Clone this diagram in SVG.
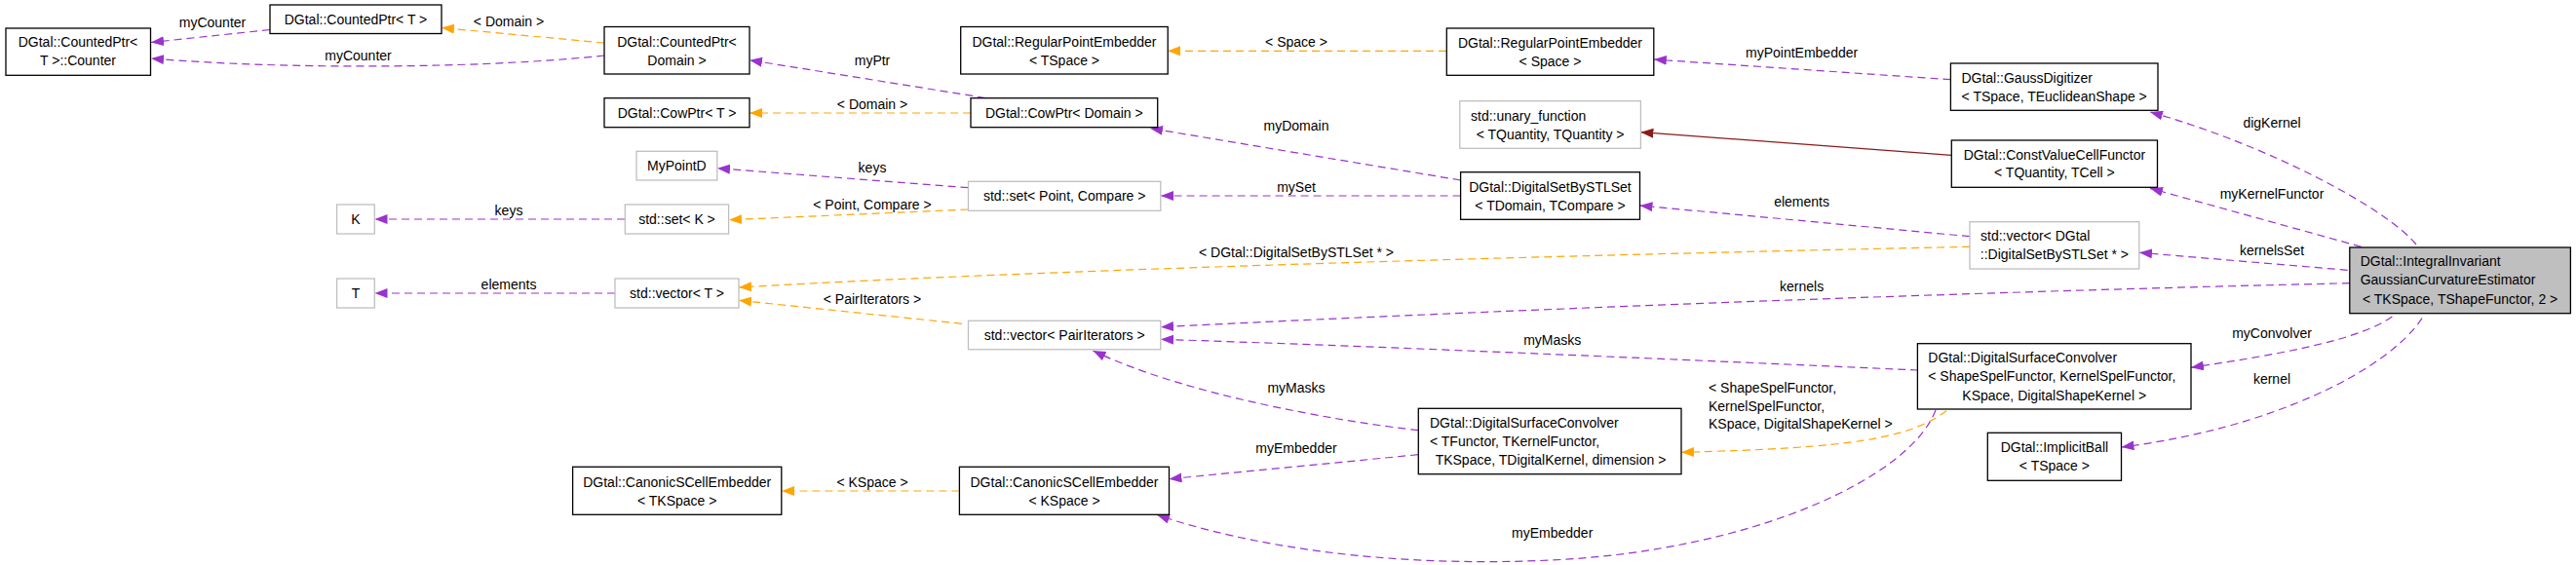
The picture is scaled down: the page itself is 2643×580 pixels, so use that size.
<svg xmlns="http://www.w3.org/2000/svg" width="2643" height="580" viewBox="0 0 2643 580">
<style>
text{font-family:"Liberation Sans",Arial,sans-serif;font-size:14px;fill:#000}
.c{text-anchor:middle}
.s{text-anchor:start}
.n rect{fill:#fff;stroke:#000;stroke-width:1.3}
.g rect{fill:#fff;stroke:#bfbfbf;stroke-width:1.3}
.h rect{fill:#bfbfbf;stroke:#000;stroke-width:1.3}
.p{fill:none;stroke:#9a32cd;stroke-width:1.2;stroke-dasharray:8,5}
.o{fill:none;stroke:#ffa500;stroke-width:1.2;stroke-dasharray:8,5}
.r{fill:none;stroke:#8b1a1a;stroke-width:1.2}
.p{marker-end:url(#ap)}
.o{marker-end:url(#ao)}
.r{marker-end:url(#ar)}
</style>
<defs>
<marker id="ap" markerUnits="userSpaceOnUse" markerWidth="14" markerHeight="10" refX="13" refY="5" orient="auto"><path d="M0,0 L13,5 L0,10 z" fill="#9a32cd"/></marker>
<marker id="ao" markerUnits="userSpaceOnUse" markerWidth="14" markerHeight="10" refX="13" refY="5" orient="auto"><path d="M0,0 L13,5 L0,10 z" fill="#ffa500"/></marker>
<marker id="ar" markerUnits="userSpaceOnUse" markerWidth="14" markerHeight="10" refX="13" refY="5" orient="auto"><path d="M0,0 L13,5 L0,10 z" fill="#8b1a1a"/></marker>
</defs>
<rect width="2643" height="580" fill="#fff"/>
<g id="connectors">
<path class="p" d="M277,30.5 L155,43.5"/>
<path class="p" d="M620,57 C500,70 300,72 155,60"/>
<path class="o" d="M620,44 L453,28.5"/>
<path class="p" d="M1011,100.5 L769,61.7"/>
<path class="o" d="M996,116 L769,116"/>
<path class="o" d="M1484,52.3 L1198,52.3"/>
<path class="p" d="M1498.6,185 L1180,131.7"/>
<path class="p" d="M993.5,192.7 L736,172.7"/>
<path class="o" d="M993.5,215 L748,225.7"/>
<path class="p" d="M641,225 L384.5,225"/>
<path class="p" d="M1498.6,201 L1191,201"/>
<path class="p" d="M631,301 L384.5,301"/>
<path class="o" d="M2021,253.3 C1700,260 1100,275 758,295"/>
<path class="o" d="M987,332.3 L758,308.3"/>
<path class="p" d="M2410.8,290.7 C2000,300 1500,320 1191,335.7"/>
<path class="p" d="M1968,380 C1700,368 1400,355 1191,348.3"/>
<path class="p" d="M1455,441.7 C1370,432 1215,405 1121.4,360"/>
<path class="p" d="M1455,466.7 L1199.5,491.7"/>
<path class="o" d="M984.4,504 L802,504"/>
<path class="p" d="M1986,421 C1960,490 1800,565 1592,575 C1420,583 1280,560 1187,528.5"/>
<path class="p" d="M2021,242.7 L1682.5,211"/>
<path class="r" d="M2002.3,159.3 L1683.4,135.7"/>
<path class="p" d="M2001.4,81.7 L1696.8,61"/>
<path class="p" d="M2479,251 C2450,215 2330,150 2206,115"/>
<path class="p" d="M2422.6,253.3 L2206,193.3"/>
<path class="p" d="M2408.7,277.3 L2195,259.3"/>
<path class="p" d="M2454.4,325 C2420,350 2330,365 2248,377.3"/>
<path class="p" d="M2485,326.7 C2450,380 2330,440 2176.5,459"/>
<path class="o" d="M1997,421.7 C1960,450 1900,460 1725,464.3"/>
<text class="c" x="218" y="28.3">myCounter</text>
<text class="c" x="367.5" y="62.3">myCounter</text>
<text class="c" x="522" y="26.7">&lt; Domain &gt;</text>
<text class="c" x="522" y="220.7">keys</text>
<text class="c" x="522" y="296.7">elements</text>
<text class="c" x="895" y="66.7">myPtr</text>
<text class="c" x="895" y="111.7">&lt; Domain &gt;</text>
<text class="c" x="895" y="176.7">keys</text>
<text class="c" x="895" y="215">&lt; Point, Compare &gt;</text>
<text class="c" x="1330" y="263.7">&lt; DGtal::DigitalSetBySTLSet * &gt;</text>
<text class="c" x="895" y="311.7">&lt; PairIterators &gt;</text>
<text class="c" x="895" y="500">&lt; KSpace &gt;</text>
<text class="c" x="1330" y="134.3">myDomain</text>
<text class="c" x="1330" y="196.7">mySet</text>
<text class="c" x="1330" y="47.7">&lt; Space &gt;</text>
<text class="c" x="1330" y="403.3">myMasks</text>
<text class="c" x="1330" y="465">myEmbedder</text>
<text class="c" x="1848.6" y="59.3">myPointEmbedder</text>
<text class="c" x="1848.6" y="212.3">elements</text>
<text class="c" x="1848.6" y="299">kernels</text>
<text class="c" x="1592.7" y="354.3">myMasks</text>
<text class="c" x="1592.7" y="552.3">myEmbedder</text>
<text class="s" x="1753" y="403.3">&lt; ShapeSpelFunctor,</text>
<text class="s" x="1753" y="421.7">KernelSpelFunctor,</text>
<text class="s" x="1753" y="440.3">KSpace, DigitalShapeKernel &gt;</text>
<text class="c" x="2331" y="131">digKernel</text>
<text class="c" x="2331" y="204.3">myKernelFunctor</text>
<text class="c" x="2331" y="262.3">kernelsSet</text>
<text class="c" x="2331" y="347.3">myConvolver</text>
<text class="c" x="2331" y="394.3">kernel</text>
</g>
<g id="counter" class="n"><rect x="6" y="29" width="148.5" height="48.3"/><text class="c" x="80" y="48">DGtal::CountedPtr&lt;</text><text class="c" x="80" y="67">T &gt;::Counter</text></g>
<g id="countedptrT" class="n"><rect x="277" y="5" width="176" height="29.5"/><text class="c" x="365" y="24.5">DGtal::CountedPtr&lt; T &gt;</text></g>
<g id="countedptrDomain" class="n"><rect x="620" y="27.5" width="149" height="48.5"/><text class="c" x="694.5" y="47.7">DGtal::CountedPtr&lt;</text><text class="c" x="694.5" y="66.7">Domain &gt;</text></g>
<g id="cowptrT" class="n"><rect x="620" y="100.7" width="149" height="30"/><text class="c" x="694.5" y="120.7">DGtal::CowPtr&lt; T &gt;</text></g>
<g id="regptembTSpace" class="n"><rect x="985.7" y="27.5" width="212.5" height="48.5"/><text class="c" x="1092" y="47.7">DGtal::RegularPointEmbedder</text><text class="c" x="1092" y="66.7">&lt; TSpace &gt;</text></g>
<g id="cowptrDomain" class="n"><rect x="996" y="100.7" width="191.7" height="30"/><text class="c" x="1091.8" y="120.7">DGtal::CowPtr&lt; Domain &gt;</text></g>
<g id="mypointd" class="g"><rect x="653" y="155.3" width="82.8" height="29.7"/><text class="c" x="694.4" y="175.2">MyPointD</text></g>
<g id="k" class="g"><rect x="345.6" y="210" width="38.7" height="30"/><text class="c" x="365" y="230">K</text></g>
<g id="setK" class="g"><rect x="641.3" y="210" width="106.3" height="30"/><text class="c" x="694.5" y="230">std::set&lt; K &gt;</text></g>
<g id="setPointCompare" class="g"><rect x="993.5" y="186.3" width="197.3" height="30"/><text class="c" x="1092.2" y="206.3">std::set&lt; Point, Compare &gt;</text></g>
<g id="t" class="g"><rect x="345.6" y="286" width="38.7" height="30"/><text class="c" x="365" y="306">T</text></g>
<g id="vectorT" class="g"><rect x="631" y="286" width="127" height="30"/><text class="c" x="694.5" y="306">std::vector&lt; T &gt;</text></g>
<g id="vectorPairIterators" class="g"><rect x="993.5" y="329.3" width="197.3" height="29.4"/><text class="c" x="1092.2" y="349">std::vector&lt; PairIterators &gt;</text></g>
<g id="canonicTKSpace" class="n"><rect x="587.6" y="479.3" width="214.2" height="49"/><text class="c" x="694.7" y="499.5">DGtal::CanonicSCellEmbedder</text><text class="c" x="694.7" y="518.5">&lt; TKSpace &gt;</text></g>
<g id="canonicKSpace" class="n"><rect x="984.4" y="479.3" width="215.1" height="49"/><text class="c" x="1092" y="499.5">DGtal::CanonicSCellEmbedder</text><text class="c" x="1092" y="518.5">&lt; KSpace &gt;</text></g>
<g id="regptembSpace" class="n"><rect x="1484.3" y="29" width="212.5" height="48.3"/><text class="c" x="1590.5" y="48.7">DGtal::RegularPointEmbedder</text><text class="c" x="1590.5" y="67.7">&lt; Space &gt;</text></g>
<g id="unaryfunction" class="g"><rect x="1497.8" y="103.7" width="185.6" height="48.6"/><text class="s" x="1509" y="123.7">std::unary_function</text><text class="c" x="1590.6" y="142.7">&lt; TQuantity, TQuantity &gt;</text></g>
<g id="digitalsetbystlset" class="n"><rect x="1498.6" y="176.7" width="183.9" height="48.6"/><text class="c" x="1590.5" y="196.7">DGtal::DigitalSetBySTLSet</text><text class="c" x="1590.5" y="215.7">&lt; TDomain, TCompare &gt;</text></g>
<g id="dscTFunctor" class="n"><rect x="1455.3" y="419.3" width="269.7" height="67.4"/><text class="s" x="1467" y="439.3">DGtal::DigitalSurfaceConvolver</text><text class="s" x="1467" y="458.3">&lt; TFunctor, TKernelFunctor,</text><text class="c" x="1591" y="476.7">TKSpace, TDigitalKernel, dimension &gt;</text></g>
<g id="gaussdigitizer" class="n"><rect x="2001.4" y="65" width="212.6" height="48.3"/><text class="s" x="2012.4" y="84.7">DGtal::GaussDigitizer</text><text class="c" x="2107.7" y="103.7">&lt; TSpace, TEuclideanShape &gt;</text></g>
<g id="constvaluecellfunctor" class="n"><rect x="2002.3" y="144" width="211.2" height="48.3"/><text class="c" x="2107.9" y="163.7">DGtal::ConstValueCellFunctor</text><text class="c" x="2107.9" y="182.3">&lt; TQuantity, TCell &gt;</text></g>
<g id="vectorDigitalSet" class="g"><rect x="2021" y="227.7" width="173.8" height="48.3"/><text class="s" x="2032" y="247.3">std::vector&lt; DGtal</text><text class="c" x="2107.9" y="266.3">::DigitalSetBySTLSet * &gt;</text></g>
<g id="integralinvariant" class="h"><rect x="2410.8" y="254" width="226.6" height="67.7"/><text class="s" x="2421.7" y="273.3">DGtal::IntegralInvariant</text><text class="s" x="2421.7" y="292.3">GaussianCurvatureEstimator</text><text class="c" x="2524.1" y="311.7">&lt; TKSpace, TShapeFunctor, 2 &gt;</text></g>
<g id="dscShapeSpel" class="n"><rect x="1967.4" y="352.7" width="280.6" height="67.3"/><text class="s" x="1978.3" y="372.3">DGtal::DigitalSurfaceConvolver</text><text class="s" x="1978.3" y="391.3">&lt; ShapeSpelFunctor, KernelSpelFunctor,</text><text class="c" x="2107.7" y="410.7">KSpace, DigitalShapeKernel &gt;</text></g>
<g id="implicitball" class="n"><rect x="2039.3" y="444.3" width="137.2" height="49"/><text class="c" x="2107.9" y="464.3">DGtal::ImplicitBall</text><text class="c" x="2107.9" y="483.3">&lt; TSpace &gt;</text></g>
</svg>
